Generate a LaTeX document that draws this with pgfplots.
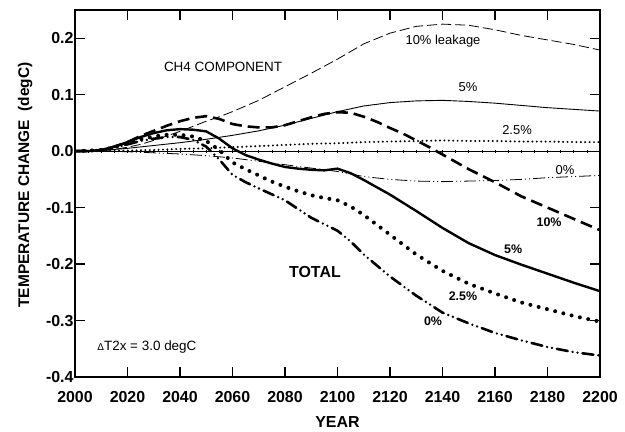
\documentclass[border=0pt]{standalone}
\usepackage{fontspec}
\setmainfont{Liberation Sans}
\usepackage{pgfplots}
\pgfplotsset{compat=1.18}
\begin{document}
\begin{tikzpicture}
\useasboundingbox (-75bp,-55bp) rectangle (550bp,377bp);
\begin{axis}[at={(0,0)}, anchor=south west,
    scale only axis, width=525bp, height=367bp,
    xmin=2000, xmax=2200, ymin=-0.4, ymax=0.25,
    xtick={2000,2020,...,2200},
    ytick={-0.4,-0.3,-0.2,-0.1,0,0.1,0.2},
    tick align=inside, major tick length=10bp,
    tick style={black, line width=1.2bp},
    axis line style={line width=1.8bp},
    /pgf/number format/assume math mode=true,
    ticklabel style={font=\fontsize{16}{16}\selectfont\bfseries},
    xticklabel style={/pgf/number format/1000 sep={}, yshift=-11bp},
    yticklabel style={/pgf/number format/.cd, fixed, fixed zerofill, precision=1, /tikz/xshift=2bp},
    xlabel={YEAR}, ylabel={TEMPERATURE CHANGE~~(degC)},
    xlabel style={at={(axis description cs:0.5,-0.123)}, anchor=center, font=\fontsize{16}{16}\selectfont\bfseries},
    ylabel style={at={(axis description cs:-0.095,0.523)}, anchor=center, font=\fontsize{15.5}{16}\selectfont\bfseries},
  ]
% zero line with small ticks every 5 years
\addplot[black, line width=1.3bp, mark=|, mark size=1.6bp, mark options={line width=0.7bp}] coordinates {
 (2000,0) (2005,0) (2010,0) (2015,0) (2020,0) (2025,0) (2030,0) (2035,0) (2040,0) (2045,0)
 (2050,0) (2055,0) (2060,0) (2065,0) (2070,0) (2075,0) (2080,0) (2085,0) (2090,0) (2095,0)
 (2100,0) (2105,0) (2110,0) (2115,0) (2120,0) (2125,0) (2130,0) (2135,0) (2140,0) (2145,0)
 (2150,0) (2155,0) (2160,0) (2165,0) (2170,0) (2175,0) (2180,0) (2185,0) (2190,0) (2195,0) (2200,0)};

% CH4 component (thin)
\addplot[black, line width=0.8bp, dash pattern=on 10bp off 4bp] coordinates {
 (2000,0) (2005,0) (2010,0.001) (2015,0.003) (2020,0.007) (2025,0.012) (2030,0.019) (2035,0.027)
 (2040,0.035) (2045,0.044) (2050,0.053) (2055,0.061) (2060,0.070) (2070,0.090) (2080,0.114)
 (2090,0.138) (2100,0.163) (2110,0.190) (2120,0.209) (2130,0.221) (2140,0.225) (2150,0.223)
 (2160,0.215) (2170,0.205) (2180,0.197) (2190,0.189) (2200,0.179)};
\addplot[black, line width=0.9bp] coordinates {
 (2000,0) (2010,0.001) (2020,0.005) (2030,0.010) (2040,0.015) (2050,0.021) (2060,0.028)
 (2070,0.036) (2080,0.046) (2090,0.058) (2100,0.070) (2110,0.080) (2120,0.086) (2130,0.089)
 (2140,0.090) (2150,0.088) (2160,0.085) (2170,0.081) (2180,0.077) (2190,0.074) (2200,0.071)};
\addplot[black, line width=2.2bp, line cap=round, dash pattern=on 0bp off 4.4bp] coordinates {
 (2000,0) (2010,0) (2020,0.001) (2030,0.002) (2040,0.004) (2050,0.005) (2060,0.007)
 (2070,0.009) (2080,0.011) (2090,0.013) (2100,0.014) (2110,0.016) (2120,0.017) (2130,0.018)
 (2140,0.019) (2150,0.018) (2160,0.018) (2170,0.017) (2180,0.017) (2190,0.016) (2200,0.016)};
\addplot[black, line width=0.8bp, dash pattern=on 12bp off 3bp on 1bp off 3bp on 1bp off 3bp] coordinates {
 (2000,0) (2010,0) (2020,-0.001) (2030,-0.003) (2040,-0.005) (2050,-0.008) (2060,-0.012)
 (2070,-0.018) (2080,-0.024) (2090,-0.030) (2100,-0.036) (2110,-0.045) (2120,-0.050)
 (2130,-0.053) (2140,-0.054) (2150,-0.053) (2160,-0.052) (2170,-0.050) (2180,-0.047)
 (2190,-0.045) (2200,-0.043)};

% total (thick)
\addplot[black, line width=2.6bp, dash pattern=on 12bp off 6bp] coordinates {
 (2000,0) (2005,0) (2010,0.002) (2015,0.008) (2020,0.016) (2025,0.027) (2030,0.036) (2035,0.045)
 (2040,0.053) (2045,0.059) (2050,0.062) (2055,0.057) (2060,0.048) (2065,0.044) (2070,0.042)
 (2075,0.042) (2080,0.046) (2085,0.053) (2090,0.060) (2095,0.066) (2100,0.069) (2105,0.068)
 (2110,0.061) (2115,0.052) (2120,0.041) (2125,0.031) (2130,0.019) (2135,0.007) (2140,-0.006)
 (2150,-0.032) (2160,-0.055) (2170,-0.080) (2180,-0.100) (2190,-0.120) (2200,-0.140)};
\addplot[black, line width=2.4bp] coordinates {
 (2000,0) (2005,0) (2010,0.002) (2015,0.008) (2020,0.016) (2025,0.025) (2030,0.032) (2035,0.037)
 (2040,0.039) (2045,0.038) (2050,0.035) (2055,0.022) (2060,0.005) (2065,-0.007) (2070,-0.015)
 (2075,-0.022) (2080,-0.028) (2085,-0.031) (2090,-0.033) (2095,-0.034) (2100,-0.031)
 (2105,-0.039) (2110,-0.051) (2120,-0.077) (2130,-0.106) (2140,-0.136) (2150,-0.163)
 (2160,-0.184) (2170,-0.201) (2180,-0.217) (2190,-0.233) (2200,-0.248)};
\addplot[black, line width=4bp, line cap=round, dash pattern=on 0bp off 8.5bp] coordinates {
 (2000,0) (2010,0.002) (2015,0.007) (2020,0.014) (2025,0.021) (2030,0.026) (2035,0.029)
 (2040,0.029) (2045,0.026) (2050,0.018) (2055,0.002) (2060,-0.020) (2065,-0.032) (2070,-0.043)
 (2075,-0.054) (2080,-0.063) (2085,-0.071) (2090,-0.078) (2095,-0.083) (2100,-0.087)
 (2105,-0.098) (2110,-0.113) (2120,-0.148) (2130,-0.183) (2140,-0.212) (2150,-0.235)
 (2160,-0.252) (2170,-0.268) (2180,-0.280) (2190,-0.292) (2200,-0.302)};
\addplot[black, line width=2.6bp, line cap=round, dash pattern=on 11bp off 5bp on 0bp off 5bp on 0bp off 5bp] coordinates {
 (2000,0) (2010,0.002) (2015,0.006) (2020,0.012) (2025,0.018) (2030,0.022) (2035,0.025)
 (2040,0.025) (2045,0.020) (2050,0.008) (2055,-0.015) (2060,-0.042) (2065,-0.055) (2070,-0.066)
 (2080,-0.087) (2090,-0.118) (2100,-0.141) (2105,-0.160) (2110,-0.183) (2120,-0.222)
 (2130,-0.256) (2140,-0.286) (2150,-0.305) (2160,-0.322) (2170,-0.335) (2180,-0.347)
 (2190,-0.356) (2200,-0.362)};

% annotations
\node[font=\fontsize{13.5}{14}\selectfont] at (axis cs:2056.4,0.150) {CH4 COMPONENT};
\node[font=\fontsize{13}{14}\selectfont] at (axis cs:2140.2,0.195) {10\% leakage};
\node[font=\fontsize{13}{14}\selectfont] at (axis cs:2149.7,0.113) {5\%};
\node[font=\fontsize{13}{14}\selectfont] at (axis cs:2168.4,0.037) {2.5\%};
\node[font=\fontsize{13}{14}\selectfont] at (axis cs:2186.7,-0.034) {0\%};
\node[font=\fontsize{12.5}{14}\selectfont\bfseries] at (axis cs:2180.6,-0.126) {10\%};
\node[font=\fontsize{12.5}{14}\selectfont\bfseries] at (axis cs:2166.9,-0.173) {5\%};
\node[font=\fontsize{12.5}{14}\selectfont\bfseries] at (axis cs:2147.8,-0.257) {2.5\%};
\node[font=\fontsize{12.5}{14}\selectfont\bfseries] at (axis cs:2136.4,-0.301) {0\%};
\node[font=\fontsize{16}{16}\selectfont\bfseries] at (axis cs:2091.4,-0.214) {TOTAL};
\node[font=\fontsize{13.5}{14}\selectfont] at (axis cs:2027.4,-0.347) {{\fontsize{10}{10}\selectfont Δ}T2x = 3.0 degC};
\end{axis}
\end{tikzpicture}
\end{document}
